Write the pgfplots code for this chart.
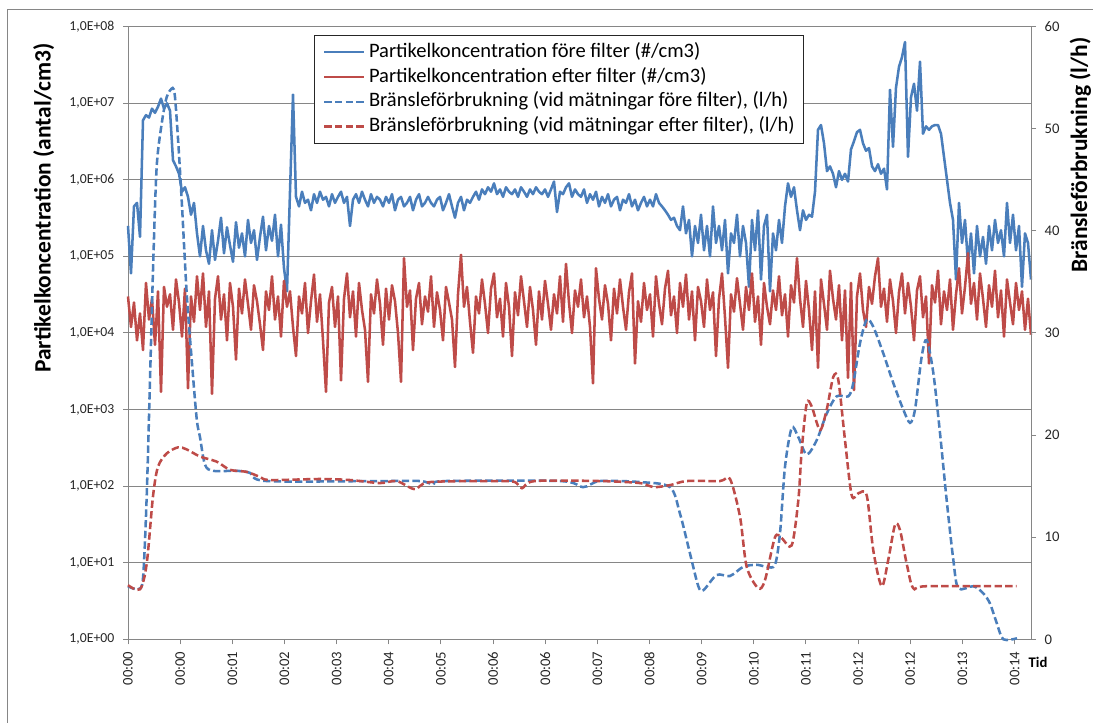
\documentclass[border=0pt]{standalone}
\usepackage{fontspec}
\setmainfont{Carlito}
\usepackage{pgfplots}
\pgfplotsset{compat=1.18}
\definecolor{cblue}{HTML}{4A7EBB}
\definecolor{cred}{HTML}{BE4B48}
\definecolor{cgrid}{HTML}{868686}
\begin{document}
\begin{tikzpicture}
\useasboundingbox (0pt,0pt) rectangle (819.75pt,541.5pt);
\clip (0pt,0pt) rectangle (819.75pt,541.5pt);
\draw[cgrid, line width=0.75pt] (5.475pt,534pt) rectangle (900pt,-50pt);
\begin{axis}[
  at={(96pt,62.025pt)}, anchor=south west,
  scale only axis, width=677.25pt, height=459.45pt,
  xmin=0, xmax=903, ymode=log, ymin=1, ymax=1e8,
  axis y line*=left, axis x line*=bottom,
  axis line style={cgrid, line width=0.75pt},
  tick style={cgrid, line width=0.75pt},
  major tick length=3.75pt, tick align=outside,
  yminorticks=false, xminorticks=false,
  ymajorgrids, grid style={cgrid, line width=0.75pt},
  ytick={1,10,100,1000,10000,100000,1000000,10000000,100000000},
  yticklabels={{1,0E+00},{1,0E+01},{1,0E+02},{1,0E+03},{1,0E+04},{1,0E+05},{1,0E+06},{1,0E+07},{1,0E+08}},
  yticklabel style={font=\fontsize{10.3}{12}\selectfont, text=black!85},
  yticklabel shift=3pt,
  xtick={0,52.15,104.3,156.45,208.6,260.75,312.9,365.05,417.2,469.35,521.5,573.65,625.8,677.95,730.1,782.25,834.4,886.55},
  xticklabels={00:00,00:00,00:01,00:02,00:03,00:04,00:05,00:06,00:06,00:07,00:08,00:09,00:10,00:11,00:12,00:12,00:13,00:14},
  xticklabel style={rotate=90, anchor=east, font=\fontsize{11}{13}\selectfont, text=black!85},
  xticklabel shift=2pt,
  clip=false,
]
\addplot[cblue, line width=1.9pt, line join=round] table[row sep=\\, header=false, x expr=\coordindex*3, y index=0] {
2.5e5\\ 6e4\\ 4.5e5\\ 5e5\\ 1.8e5\\ 6e6\\ 7e6\\ 6.5e6\\ 8.5e6\\ 7.5e6\\
9e6\\ 1.15e7\\ 8.5e6\\ 1e7\\ 8e6\\ 1.8e6\\ 1.5e6\\ 1.2e6\\ 7e5\\ 8e5\\
6e5\\ 3.5e5\\ 5e5\\ 2e5\\ 1e5\\ 2.5e5\\ 1.2e5\\ 8e4\\ 2.2e5\\ 9e4\\
1.6e5\\ 3.2e5\\ 1.1e5\\ 2.4e5\\ 1.4e5\\ 8.5e4\\ 2.8e5\\ 1.3e5\\ 2e5\\ 1e5\\
3e5\\ 1.5e5\\ 2.2e5\\ 9e4\\ 1.8e5\\ 3.3e5\\ 1.2e5\\ 2.5e5\\ 1.6e5\\ 3.5e5\\
1e5\\ 2.6e5\\ 7e4\\ 3.5e4\\ 7e5\\ 1.3e7\\ 6e5\\ 4.5e5\\ 7e5\\ 5e5\\
5.5e5\\ 4e5\\ 6.5e5\\ 5e5\\ 7e5\\ 5.5e5\\ 6e5\\ 4.5e5\\ 6.5e5\\ 5e5\\
6e5\\ 7e5\\ 5e5\\ 6e5\\ 2.5e5\\ 5.5e5\\ 6.5e5\\ 5e5\\ 7e5\\ 5.5e5\\
4.5e5\\ 6.5e5\\ 5e5\\ 6e5\\ 5.5e5\\ 4.5e5\\ 6e5\\ 5e5\\ 6.5e5\\ 4e5\\
5.5e5\\ 6e5\\ 4.5e5\\ 5e5\\ 6e5\\ 4e5\\ 5.5e5\\ 6.5e5\\ 4.5e5\\ 5e5\\
6e5\\ 5e5\\ 4.5e5\\ 5.5e5\\ 6e5\\ 4e5\\ 5e5\\ 6.5e5\\ 4.5e5\\ 3.2e5\\
5e5\\ 6e5\\ 4e5\\ 5.5e5\\ 5e5\\ 6e5\\ 7e5\\ 5.5e5\\ 7.5e5\\ 6.5e5\\
8e5\\ 7e5\\ 9e5\\ 6.5e5\\ 7.5e5\\ 6e5\\ 8e5\\ 7e5\\ 6.5e5\\ 7.5e5\\
6e5\\ 8e5\\ 7e5\\ 6e5\\ 7.5e5\\ 6.5e5\\ 8e5\\ 7e5\\ 6.5e5\\ 7.5e5\\
6e5\\ 7.5e5\\ 9.5e5\\ 3.8e5\\ 7e5\\ 6.5e5\\ 8e5\\ 9e5\\ 6e5\\ 7.5e5\\
6.5e5\\ 6e5\\ 7.5e5\\ 5e5\\ 6.5e5\\ 5.5e5\\ 7e5\\ 4.5e5\\ 6e5\\ 5e5\\
6.5e5\\ 4.5e5\\ 5.5e5\\ 6e5\\ 4e5\\ 5.5e5\\ 5e5\\ 6.5e5\\ 4.5e5\\ 5.5e5\\
4e5\\ 5e5\\ 6e5\\ 4.5e5\\ 5.5e5\\ 4.5e5\\ 6.5e5\\ 5e5\\ 4.5e5\\ 4e5\\
3.5e5\\ 3e5\\ 3.2e5\\ 2.5e5\\ 2.2e5\\ 4.5e5\\ 2e5\\ 3e5\\ 1e5\\ 2.5e5\\
1.5e5\\ 3.5e5\\ 1.2e5\\ 2.5e5\\ 1e5\\ 4.5e5\\ 1.5e5\\ 2.5e5\\ 1.2e5\\ 3e5\\
6e4\\ 2e5\\ 1.5e5\\ 3.5e5\\ 1e5\\ 2.5e5\\ 1.5e5\\ 4e4\\ 3e5\\ 1.2e5\\
4e5\\ 5e4\\ 2.5e5\\ 3.5e5\\ 3.5e4\\ 2e5\\ 1.2e5\\ 3e5\\ 1.5e5\\ 4.5e5\\
9e5\\ 6e5\\ 8e5\\ 4e5\\ 2.2e5\\ 4e5\\ 3e5\\ 3.5e5\\ 3.3e5\\ 7e5\\
4.5e6\\ 5.2e6\\ 3e6\\ 1.3e6\\ 1.5e6\\ 1.2e6\\ 8e5\\ 1.3e6\\ 1e6\\ 1.2e6\\
9.5e5\\ 2.5e6\\ 3.2e6\\ 4.2e6\\ 4.5e6\\ 3e6\\ 2.4e6\\ 2.6e6\\ 1.5e6\\ 1.3e6\\
1.6e6\\ 1.2e6\\ 1.4e6\\ 7.5e5\\ 1.5e7\\ 2.7e6\\ 1.6e7\\ 3e7\\ 4e7\\ 6.3e7\\
2e6\\ 1.2e7\\ 1.8e7\\ 8e6\\ 3.5e7\\ 4e6\\ 5e6\\ 4.5e6\\ 5e6\\ 5.2e6\\
5.2e6\\ 4e6\\ 2e6\\ 1e6\\ 5e5\\ 3e5\\ 5e4\\ 5e5\\ 1.5e5\\ 3e5\\
8e4\\ 2e5\\ 6e4\\ 2.5e5\\ 1e5\\ 1.8e5\\ 8e4\\ 2.5e5\\ 1.2e5\\ 3e5\\
1.5e5\\ 2.2e5\\ 1e5\\ 5e5\\ 1.5e5\\ 3.5e5\\ 1.2e5\\ 2.5e5\\ 4e4\\ 2e5\\
1.5e5\\ 5e4\\
};
\addplot[cred, line width=1.9pt, line join=round] table[row sep=\\, header=false, x expr=\coordindex*3, y index=0] {
3e4\\ 1.2e4\\ 2.5e4\\ 8e3\\ 1.8e4\\ 6e3\\ 4.5e4\\ 1.5e4\\ 2.8e4\\ 7e3\\
3.5e4\\ 1.7e3\\ 4e4\\ 2.2e4\\ 3.2e4\\ 1.1e4\\ 5e4\\ 2.5e4\\ 9e3\\ 3.8e4\\
1.9e3\\ 3e4\\ 1.4e4\\ 5.5e4\\ 2e4\\ 6e4\\ 1.2e4\\ 3.5e4\\ 1.6e3\\ 2.8e4\\
5.5e4\\ 1.5e4\\ 3.2e4\\ 8e3\\ 4.5e4\\ 2.2e4\\ 4.5e3\\ 3.8e4\\ 1.8e4\\ 5e4\\
2.4e4\\ 1.1e4\\ 4.2e4\\ 2.6e4\\ 1.3e4\\ 6e3\\ 3.5e4\\ 2e4\\ 5.5e4\\ 1.5e4\\
3e4\\ 9e3\\ 4.8e4\\ 2.2e4\\ 3.5e4\\ 1.2e4\\ 5e3\\ 3e4\\ 1.8e4\\ 4.5e4\\
1e4\\ 2.6e4\\ 5.8e4\\ 1.4e4\\ 3.2e4\\ 8e3\\ 1.7e3\\ 2.5e4\\ 4e4\\ 1.2e4\\
3e4\\ 2.4e3\\ 2.8e4\\ 6e4\\ 1.6e4\\ 3.5e4\\ 9e3\\ 4.5e4\\ 2e4\\ 1.1e4\\
2.3e3\\ 3.2e4\\ 1.8e4\\ 5e4\\ 2.4e4\\ 7e3\\ 3.8e4\\ 1.5e4\\ 4.2e4\\ 2.6e4\\
1e4\\ 2.3e3\\ 9.5e4\\ 2.2e4\\ 3.6e4\\ 6e3\\ 2.8e4\\ 4.5e4\\ 1.3e4\\ 3e4\\
1.9e4\\ 5.5e4\\ 1.2e4\\ 3.4e4\\ 2e4\\ 8e3\\ 4e4\\ 2.5e4\\ 1.5e4\\ 3.6e3\\
3.2e4\\ 1.05e5\\ 2.2e4\\ 4e4\\ 1.4e4\\ 5.5e3\\ 3e4\\ 1.8e4\\ 5e4\\ 2.4e4\\
1e4\\ 3.8e4\\ 6e4\\ 1.6e4\\ 2.8e4\\ 9e3\\ 4.5e4\\ 2.2e4\\ 5e3\\ 3.4e4\\
1.7e4\\ 5.5e4\\ 2.6e4\\ 1.2e4\\ 4e4\\ 2e4\\ 7e3\\ 3.5e4\\ 1.5e4\\ 4.8e4\\
2.4e4\\ 1.1e4\\ 3.2e4\\ 1.8e4\\ 5.5e4\\ 1.4e4\\ 8e4\\ 2.5e4\\ 1e4\\ 3.6e4\\
2.2e4\\ 5e4\\ 1.6e4\\ 3e4\\ 1.2e4\\ 2.2e3\\ 7e4\\ 2.8e4\\ 1.5e4\\ 4.2e4\\
2.4e4\\ 8e3\\ 3.8e4\\ 1.8e4\\ 5e4\\ 2.2e4\\ 1.1e4\\ 3.4e4\\ 6e4\\ 4e3\\
2.6e4\\ 1.4e4\\ 4.5e4\\ 2e4\\ 3.2e4\\ 9e3\\ 5.5e4\\ 2.4e4\\ 1.3e4\\ 3.8e4\\
6.5e4\\ 1.7e4\\ 3e4\\ 1e4\\ 4.5e4\\ 2.2e4\\ 5.8e4\\ 1.5e4\\ 3.5e4\\ 8e3\\
4e4\\ 2.6e4\\ 1.2e4\\ 5e4\\ 2e4\\ 3.4e4\\ 5e3\\ 2.8e4\\ 6e4\\ 1.6e4\\
3.5e3\\ 3.2e4\\ 1.9e4\\ 5.2e4\\ 2.4e4\\ 1.1e4\\ 4e4\\ 2e4\\ 6e4\\ 1.4e4\\
3e4\\ 7e3\\ 4.5e4\\ 2.2e4\\ 1.3e4\\ 3.6e4\\ 2e4\\ 5.5e4\\ 1.7e4\\ 3.2e4\\
9e3\\ 4.2e4\\ 2.5e4\\ 9.5e4\\ 2.8e4\\ 1.2e4\\ 4.8e4\\ 2e4\\ 6e3\\ 3.5e4\\
3.5e3\\ 5e4\\ 2.4e4\\ 1.1e4\\ 6.5e4\\ 2.8e4\\ 1.5e4\\ 4.2e4\\ 8e3\\ 3.6e4\\
2.6e3\\ 4.5e4\\ 1.8e3\\ 3e4\\ 6e4\\ 2e4\\ 1.2e4\\ 4e4\\ 2.4e4\\ 5.5e4\\
9.5e4\\ 2.2e4\\ 3.8e4\\ 1.4e4\\ 5e4\\ 2.6e4\\ 1e4\\ 3.4e4\\ 6e4\\ 1.8e4\\
4.5e4\\ 2.2e4\\ 8e3\\ 3.6e4\\ 5.5e4\\ 1.6e4\\ 3e4\\ 4e3\\ 4.2e4\\ 2.5e4\\
6.5e4\\ 1.3e4\\ 3.5e4\\ 2e4\\ 5e4\\ 1.1e4\\ 3.2e4\\ 7e4\\ 1.8e4\\ 4e4\\
1.1e5\\ 2.4e4\\ 4.5e4\\ 1.5e4\\ 6e4\\ 2.8e4\\ 1.2e4\\ 4.2e4\\ 2.2e4\\ 6.5e4\\
1.6e4\\ 3.6e4\\ 9e3\\ 5e4\\ 2.5e4\\ 1.3e4\\ 4.5e4\\ 2e4\\ 3.5e4\\ 1.1e4\\
2.8e4\\ 9.5e3\\
};
\end{axis}
\begin{axis}[
  at={(96pt,62.025pt)}, anchor=south west,
  scale only axis, width=677.25pt, height=459.45pt,
  xmin=0, xmax=903, ymin=0, ymax=60,
  axis y line*=right, axis x line=none,
  axis line style={cgrid, line width=0.75pt},
  tick style={cgrid, line width=0.75pt},
  major tick length=3.75pt, tick align=outside,
  ytick={0,10,20,30,40,50,60},
  yticklabel style={font=\fontsize{11}{13}\selectfont, text=black!85, xshift=3pt},
  /pgf/number format/assume math mode=true,
  clip=false,
  legend cell align=left,
  legend image code/.code={\draw[#1] (0pt,0pt) -- (30pt,0pt);},
  legend style={at={(0.206,0.9865)}, anchor=north west, draw=black!85, line width=0.75pt, fill=white,
    font=\fontsize{15.4}{18}\selectfont, inner xsep=6.5pt, inner ysep=5pt, row sep=4pt, column sep=2.5pt,
    nodes={inner sep=0pt, text height=11.2pt, text depth=3.5pt}},
]
\addlegendimage{cblue, line width=1.9pt}
\addlegendentry{Partikelkoncentration före filter (\#/cm3)}
\addlegendimage{cred, line width=1.9pt}
\addlegendentry{Partikelkoncentration efter filter (\#/cm3)}
\addplot[cblue, line width=1.9pt, dash pattern=on 5.5pt off 2.5pt, smooth, tension=0.5] coordinates {
(0,5.2) (10,4.9) (15,6) (18.7,14) (22,25.4) (25.3,37.1) (28.7,46.3) (33.7,50.5) (38.7,53.1) (44.7,54.0) (47,53.1) (50.3,48.6) (53.7,43.0) (58.7,33.9) (63.7,27.4) (68.7,21.6) (72,19.8) (77,17.1) (85.3,16.5) (108.7,16.5) (122,16.3) (138.7,15.5) (252,15.5) (292,15.5) (305,15.2) (317,15.5) (432,15.5) (455,14.9) (472,15.5) (512,15.4) (542,14.9) (552,12.3) (562,8.4) (570.3,5.2) (575.3,4.8) (588.7,6.3) (602,6.2) (615.3,7.1) (628.7,7.3) (638.7,7.1) (647,7.3) (652,10.4) (657,16.9) (663.7,20.7) (670.3,19.8) (678.7,18.1) (688.7,19.5) (698.7,22.1) (708.7,23.8) (720.3,23.8) (725.3,25.1) (732,29.0) (738.7,31.3) (745.3,30.6) (755.3,28.0) (765.3,25.1) (775.3,22.5) (782,21.2) (787,22.5) (793.7,27.7) (798.7,29.3) (805.3,26.1) (812,20.2) (818.7,13.6) (825.3,7.8) (830.3,5.0) (845.3,5.2) (855.3,4.5) (862,3.5) (868.7,1.6) (875.3,0) (889,0.1)
};
\addlegendentry{Bränsleförbrukning (vid mätningar före filter), (l/h)}
\addplot[cred, line width=1.9pt, dash pattern=on 5.5pt off 2.5pt, smooth, tension=0.5] coordinates {
(0,5.3) (12,4.9) (18.7,7.4) (25,14) (30,16.9) (38.7,18.2) (50,18.8) (58.7,18.6) (72,17.9) (88.7,17.4) (102,16.6) (118.7,16.4) (132,15.9) (142,15.6) (192,15.7) (222,15.6) (252,15.3) (268.7,15.5) (287,14.7) (302,15.4) (372,15.5) (387,15.4) (394,14.8) (407,15.5) (472,15.5) (512,15.3) (525,14.9) (542,15.1) (558.7,15.5) (592,15.5) (602,15.7) (612,12.0) (618.7,7.1) (630.3,5.0) (637,5.8) (647,10.0) (653.7,9.9) (663.7,9.2) (670.3,13.6) (673.7,18.5) (678.7,23.1) (683.7,22.8) (692,20.5) (698.7,22.5) (705.3,25.7) (710.3,25.4) (717,19.5) (723.7,14.1) (730.3,14.3) (738.7,14.1) (745.3,8.7) (753.7,5.2) (760.3,7.8) (767,11.2) (772,10.7) (778.7,7.4) (785.3,5.0) (798.7,5.2) (888.7,5.2)
};
\addlegendentry{Bränsleförbrukning (vid mätningar efter filter), (l/h)}
\end{axis}
\node[rotate=90, anchor=north, inner sep=0pt, font=\fontsize{17.6}{21}\selectfont\bfseries] at (24.75pt,385.5pt) {Partikelkoncentration (antal/cm3)};
\node[rotate=90, anchor=north, inner sep=0pt, font=\fontsize{17.6}{21}\selectfont\bfseries] at (802pt,425.25pt) {Bränsleförbrukning (l/h)};
\node[inner sep=0pt, font=\fontsize{11}{13}\selectfont\bfseries] at (778.5pt,45pt) {Tid};
\end{tikzpicture}
\end{document}
